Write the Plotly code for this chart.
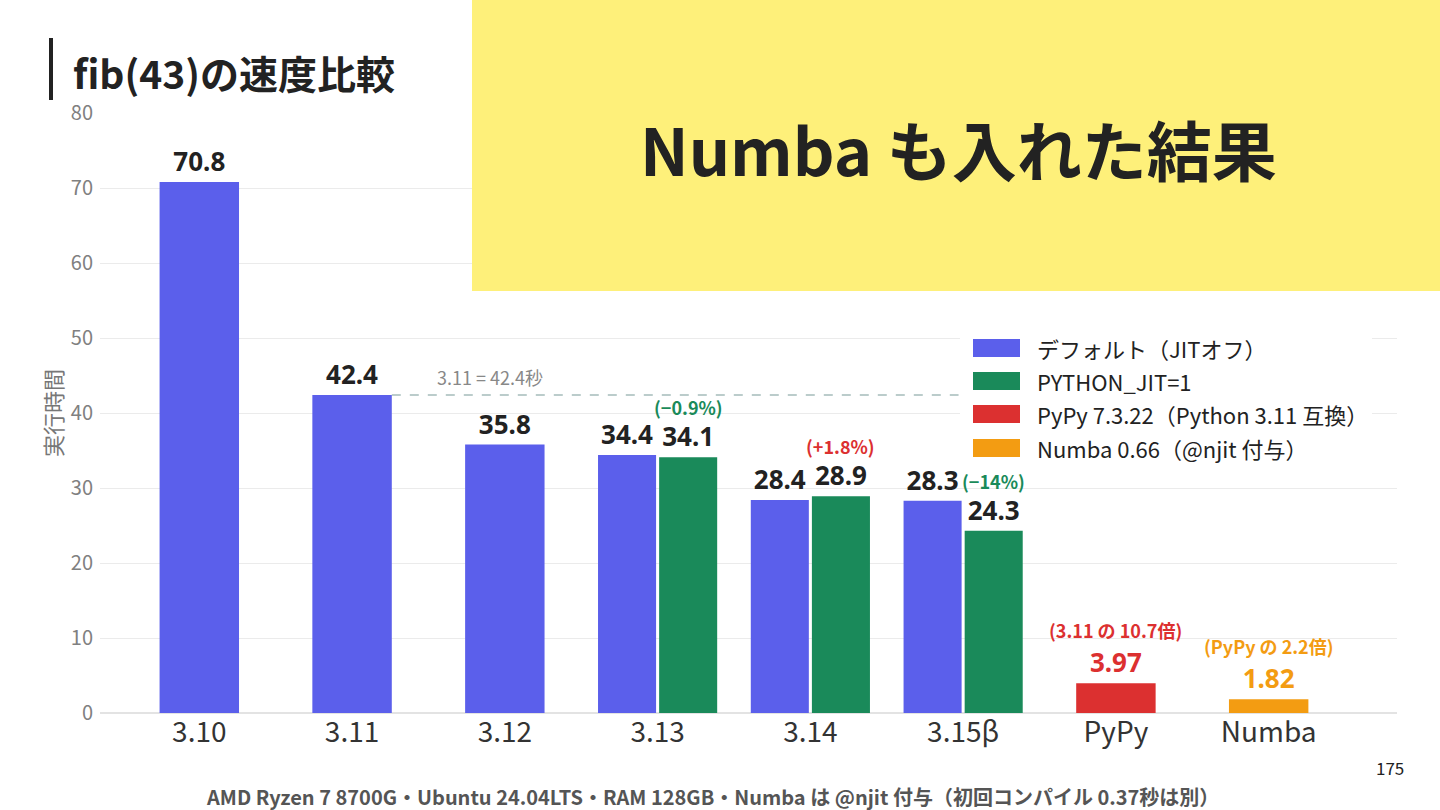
import plotly.graph_objects as go

# ---------------- data ----------------
categories = ["3.10", "3.11", "3.12", "3.13", "3.14", "3.15β", "PyPy", "Numba"]
default_vals = [70.8, 42.4, 35.8, 34.4, 28.4, 28.3, None, None]
jit_vals = [None, None, None, 34.1, 28.9, 24.3, None, None]
pypy_vals = [None, None, None, None, None, None, 3.97, None]
numba_vals = [None, None, None, None, None, None, None, 1.82]

series_names = ["デフォルト（JITオフ）", "PYTHON_JIT=1", "PyPy 7.3.22（Python 3.11 互換）", "Numba 0.66（@njit 付与）"]
series_colors = ["#5B5FEB", "#1A8A5A", "#DC3030", "#F39C12"]

delta_labels = ["(−0.9%)", "(+1.8%)", "(−14%)"]
delta_idx = [3, 4, 5]
delta_colors = ["#1A8A5A", "#DC3030", "#1A8A5A"]

ratio_labels = ["(3.11 の 10.7倍)", "(PyPy の 2.2倍)"]
ratio_idx = [6, 7]

ref_value = 42.4
ref_label = "3.11 = 42.4秒"

FONT = "Noto Sans CJK JP"
NUMFONT = "Noto Sans"

# ---------------- geometry helpers ----------------
W, H = 1440, 810
ML, MR, MT, MB = 100, 43, 113, 97
PW, PH = W - ML - MR, H - MT - MB


def px(x):
    return (x - ML) / PW


def py(y):
    return (H - MB - y) / PH


single_w = 0.52
pair_w = 0.38
pair_gap = 0.01

fig = go.Figure()


def widths_offsets(vals, kind):
    w, o = [], []
    for i, v in enumerate(vals):
        paired = default_vals[i] is not None and jit_vals[i] is not None
        if paired:
            w.append(pair_w)
            o.append(-pair_w - pair_gap if kind == "left" else pair_gap)
        else:
            w.append(single_w)
            o.append(-single_w / 2)
    return w, o


trace_specs = [
    (default_vals, "left", "#222222"),
    (jit_vals, "right", "#222222"),
    (pypy_vals, "single", series_colors[2]),
    (numba_vals, "single", series_colors[3]),
]

for (vals, kind, tcolor), name, color in zip(trace_specs, series_names, series_colors):
    w, o = widths_offsets(vals, kind)
    fig.add_trace(go.Bar(
        x=categories, y=vals, name=name,
        width=w, offset=o,
        marker=dict(color=color, line=dict(width=0)),
        text=[("" if v is None else f"{v:g}") for v in vals],
        textposition="outside",
        textfont=dict(family=NUMFONT, size=26, color=tcolor, weight="bold"),
        cliponaxis=False,
        showlegend=False,
        hoverinfo="skip",
    ))

annotations = []

# delta annotations above JIT bars
for lab, i, c in zip(delta_labels, delta_idx, delta_colors):
    annotations.append(dict(
        x=i + pair_gap + pair_w / 2, y=jit_vals[i], xref="x", yref="y",
        text=f"<b>{lab}</b>", showarrow=False, yshift=50,
        font=dict(family=FONT, size=18, color=c),
    ))

# ratio annotations above PyPy / Numba
for lab, i, c, vals in zip(ratio_labels, ratio_idx, series_colors[2:], [pypy_vals, numba_vals]):
    annotations.append(dict(
        x=i, y=vals[i], xref="x", yref="y",
        text=f"<b>{lab}</b>", showarrow=False, yshift=53,
        font=dict(family=FONT, size=18, color=c),
    ))

# reference line label
annotations.append(dict(
    x=1.54, y=ref_value, xref="x", yref="y", xanchor="left", yanchor="middle",
    text=ref_label, showarrow=False, yshift=18,
    font=dict(family=FONT, size=18, color="#888888"),
))

shapes = []
# reference dashed line
shapes.append(dict(
    type="line", xref="x", yref="y", x0=1 + single_w / 2, x1=4.97, y0=ref_value, y1=ref_value,
    line=dict(color="#A5BCBA", width=1.5, dash="dash"), layer="below",
))

# manual legend (white background box, swatches, labels)
shapes.append(dict(
    type="rect", xref="paper", yref="paper",
    x0=px(960), x1=px(1372), y0=py(468), y1=py(328),
    fillcolor="white", line=dict(width=0), layer="above",
))
leg_rows = [348, 381, 414, 448]
for yc, name, color in zip(leg_rows, series_names, series_colors):
    shapes.append(dict(
        type="rect", xref="paper", yref="paper",
        x0=px(973), x1=px(1020), y0=py(yc + 9), y1=py(yc - 9),
        fillcolor=color, line=dict(width=0), layer="above",
    ))
    annotations.append(dict(
        x=px(1035), y=py(yc), xref="paper", yref="paper", xanchor="left", yanchor="middle",
        text=name, showarrow=False, font=dict(family=FONT, size=22, color="#222222"),
    ))

# yellow callout box
shapes.append(dict(
    type="rect", xref="paper", yref="paper",
    x0=px(472), x1=px(1445), y0=py(291), y1=py(-5),
    fillcolor="#FEF07A", line=dict(width=0), layer="above",
))
annotations.append(dict(
    x=px(958), y=py(148), xref="paper", yref="paper", xanchor="center", yanchor="middle",
    text="<b>Numba も入れた結果</b>", showarrow=False,
    font=dict(family=FONT, size=65, color="#222222"),
))

# title with accent bar
shapes.append(dict(
    type="rect", xref="paper", yref="paper",
    x0=px(49), x1=px(53), y0=py(100), y1=py(38),
    fillcolor="#222222", line=dict(width=0), layer="above",
))
annotations.append(dict(
    x=px(71), y=py(72), xref="paper", yref="paper", xanchor="left", yanchor="middle",
    text="<b>fib(43)の速度比較</b>", showarrow=False,
    font=dict(family=FONT, size=39, color="#222222"),
))

# footer and page number
annotations.append(dict(
    x=px(712), y=py(796), xref="paper", yref="paper", xanchor="center", yanchor="middle",
    text="<b>AMD Ryzen 7 8700G・Ubuntu 24.04LTS・RAM 128GB・Numba は @njit 付与（初回コンパイル 0.37秒は別）</b>",
    showarrow=False, font=dict(family=FONT, size=20, color="#555555"),
))
annotations.append(dict(
    x=px(1406), y=py(767), xref="paper", yref="paper", xanchor="right", yanchor="middle",
    text="175", showarrow=False, font=dict(family=FONT, size=17, color="#222222"),
))

fig.update_layout(
    width=W, height=H,
    margin=dict(l=ML, r=MR, t=MT, b=MB, pad=0),
    paper_bgcolor="white", plot_bgcolor="white",
    barmode="overlay",
    font=dict(family=FONT),
    showlegend=False,
    shapes=shapes,
    annotations=annotations,
    xaxis=dict(
        type="category", categoryorder="array", categoryarray=categories,
        range=[-0.65, 7.84], showgrid=False, zeroline=False, showline=False,
        ticks="", tickfont=dict(family=FONT, size=28, color="#333333"),
    ),
    yaxis=dict(
        range=[0, 80], dtick=10, showgrid=True, gridcolor="#EBEBEB", gridwidth=1,
        zeroline=True, zerolinecolor="#E3E3E3", zerolinewidth=2,
        showline=False, ticks="", ticklabelstandoff=6,
        tickfont=dict(family=FONT, size=20, color="#808080"),
        title=dict(text="実行時間", font=dict(family=FONT, size=22, color="#777777"), standoff=2),
    ),
)

fig.write_html(
    "out.html",
    config={"displayModeBar": False},
    post_script="document.body.style.margin='0';document.body.style.overflow='hidden';",
)
